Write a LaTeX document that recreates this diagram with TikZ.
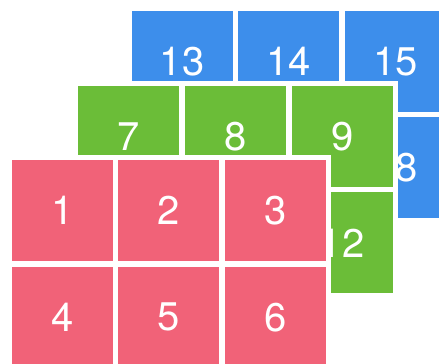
\documentclass[tikz,border=0pt]{standalone}
\usepackage{fontspec}
\setmainfont{TeX Gyre Heros}
\usepackage{tikz}
\usetikzlibrary{positioning}
\definecolor{tileblue}{HTML}{3D8EEB}
\definecolor{tilegreen}{HTML}{6BBD38}
\definecolor{tilered}{HTML}{F16278}
\tikzset{
    gridcell/.style={minimum width=101pt,minimum height=101pt,inner sep=0pt,
      outer sep=0pt,text=white,font=\fontsize{40}{48}\selectfont,
      preaction={draw=white,fill=white,line width=10pt}},
    bluecell/.style={gridcell,fill=tileblue},
    greencell/.style={gridcell,fill=tilegreen},
    redcell/.style={gridcell,fill=tilered}
}

\begin{document}
\begin{tikzpicture}[x=1pt,y=1pt,node distance=5.7pt]
  \useasboundingbox (0,0) rectangle (439,-364);
  \clip (0,0) rectangle (439,-364);
  % back layer
  \node[bluecell] (b13) at (182.2,-61.2) {13};
  \node[bluecell,right=of b13] (b14) {14};
  \node[bluecell,right=of b14] (b15) {15};
  \node[bluecell,below=of b13] (b16) {16};
  \node[bluecell,right=of b16] (b17) {17};
  \node[bluecell,right=of b17] (b18) {18};
  % middle layer
  \node[greencell] (g7) at (128.8,-136.2) {7};
  \node[greencell,right=of g7] (g8) {8};
  \node[greencell,right=of g8] (g9) {9};
  \node[greencell,below=of g7] (g10) {10};
  \node[greencell,right=of g10] (g11) {11};
  \node[greencell,right=of g11] (g12) {12};
  % front layer
  \node[redcell] (r1) at (62.2,-210.5) {1};
  \node[redcell,right=of r1] (r2) {2};
  \node[redcell,right=of r2] (r3) {3};
  \node[redcell,below=of r1] (r4) {4};
  \node[redcell,right=of r4] (r5) {5};
  \node[redcell,right=of r5] (r6) {6};
\end{tikzpicture}
\end{document}
